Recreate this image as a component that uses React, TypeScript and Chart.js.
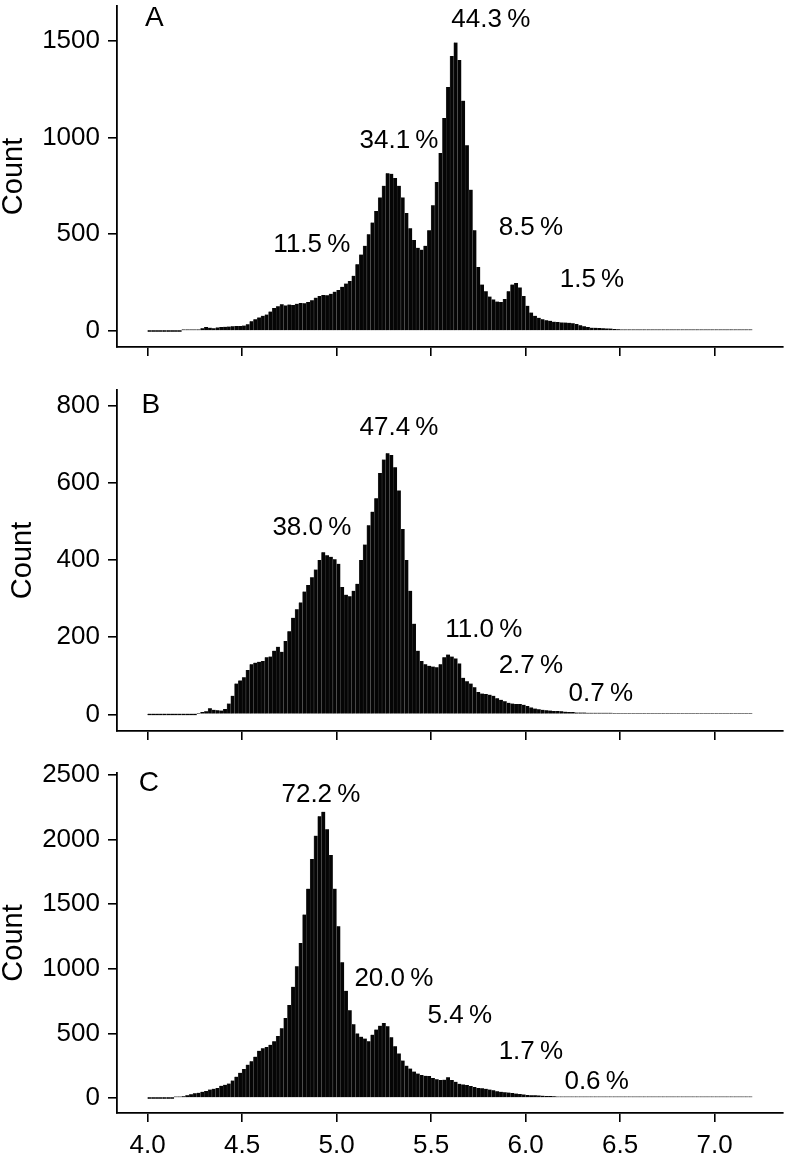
import { useEffect, useRef } from 'react';
import { Chart, registerables } from 'chart.js';

Chart.register(...registerables);

// ---- histogram data (bin width 0.02, first bin centred at 4.01) ----
const BIN_FIRST_CENTER = 4.01;
const BIN_WIDTH = 0.02;

const countsA = [
  0, 0, 0, 0, 0, 0, 0, 0, 0, 1, 1, 2, 3,
  6, 14, 20, 17, 14, 18, 20,
  21, 23, 24, 25, 26, 28, 35, 50, 60, 70,
  78, 85, 100, 118, 128, 138, 132, 136, 134, 140,
  145, 143, 150, 158, 172, 180, 186, 184, 192, 203,
  212, 228, 245, 258, 285, 345, 395, 440, 500, 560,
  620, 690, 750, 815, 812, 790, 750, 690, 610, 530,
  470, 430, 420, 440, 520, 650, 770, 920, 1100, 1260,
  1420, 1490, 1400, 1190, 960, 730, 520, 330, 240, 205,
  178, 163, 152, 150, 165, 205, 240, 248, 225, 180,
  130, 95, 78, 68, 60, 55, 52, 48, 46, 44,
  43, 42, 40, 36, 30, 24, 20, 17, 16, 15,
  14, 13, 12, 10, 9, 8, 7, 6, 6, 5,
  5, 4, 4, 4, 4, 4, 3, 3, 3, 3,
  3, 3, 3, 3, 2, 2, 2, 2, 2, 2,
  2, 2, 2, 2, 2, 2, 1, 1, 1, 1,
];

const countsB = [
  0, 0, 0, 0, 0, 0, 0, 0, 0, 0, 0, 0, 0,
  2, 6, 8, 16, 12, 11, 10,
  14, 28, 48, 80, 88, 96, 115, 130, 134, 136,
  138, 148, 150, 165, 175, 162, 190, 215, 250, 272,
  290, 318, 335, 355, 375, 400, 420, 412, 408, 402,
  390, 330, 310, 306, 320, 338, 400, 440, 490, 525,
  560, 625, 660, 676, 672, 640, 580, 480, 400, 320,
  235, 165, 138, 130, 126, 124, 122, 130, 148, 155,
  150, 145, 132, 95, 86, 80, 70, 58, 54, 53,
  51, 48, 42, 38, 34, 30, 28, 27, 27, 25,
  22, 18, 15, 13, 12, 11, 10, 9, 9, 8,
  7, 6, 6, 5, 5, 5, 4, 4, 4, 4,
  4, 4, 4, 3, 3, 3, 3, 3, 3, 3,
  3, 3, 3, 3, 3, 2, 2, 2, 2, 2,
  2, 2, 2, 2, 2, 2, 2, 2, 2, 2,
  1, 1, 1, 1, 1, 1, 1, 1, 1, 1,
];

const countsC = [
  0, 0, 0, 0, 0, 0, 0,
  3, 8, 14,
  22, 30, 36, 40, 48, 55, 65, 72, 78, 95,
  102, 112, 135, 165, 195, 225, 258, 285, 320, 365,
  385, 395, 412, 440, 480, 540, 620, 720, 860, 1020,
  1200, 1420, 1620, 1850, 2030, 2180, 2215, 2080, 1880, 1620,
  1330, 1050, 830, 680, 570, 500, 475, 460, 440, 490,
  530, 560, 580, 555, 470, 400, 345, 290, 250, 228,
  205, 190, 178, 172, 170, 155, 145, 140, 142, 160,
  140, 125, 110, 105, 100, 92, 85, 78, 75, 72,
  66, 60, 52, 48, 45, 42, 38, 34, 31, 28,
  24, 22, 21, 20, 18, 16, 15, 13, 12, 11,
  10, 10, 9, 9, 8, 8, 8, 7, 7, 6,
  6, 6, 5, 5, 5, 5, 4, 4, 4, 4,
  4, 4, 3, 3, 3, 3, 3, 3, 3, 3,
  3, 2, 2, 2, 2, 2, 2, 2, 2, 2,
  2, 2, 1, 1, 1, 1, 1, 1, 1, 1,
];

const binCenters = countsA.map((_, i) => +(BIN_FIRST_CENTER + i * BIN_WIDTH).toFixed(3));

// ---- tick values ----
const xTickValues = [4.0, 4.5, 5.0, 5.5, 6.0, 6.5, 7.0];
const yTicksA = [0, 500, 1000, 1500];
const yTicksB = [0, 200, 400, 600, 800];
const yTicksC = [0, 500, 1000, 1500, 2000, 2500];

// ---- annotation texts and anchors (data coordinates) ----
const pctTextA = ['11.5\u2009%', '34.1\u2009%', '44.3\u2009%', '8.5\u2009%', '1.5\u2009%'];
const pctXA = [4.869, 5.33, 5.816, 6.028, 6.351];
const pctYA = [444, 981, 1609, 532, 263];

const pctTextB = ['38.0\u2009%', '47.4\u2009%', '11.0\u2009%', '2.7\u2009%', '0.7\u2009%'];
const pctXB = [4.869, 5.33, 5.779, 6.028, 6.398];
const pctYB = [482, 741, 218, 125, 53];

const pctTextC = ['72.2\u2009%', '20.0\u2009%', '5.4\u2009%', '1.7\u2009%', '0.6\u2009%'];
const pctXC = [4.917, 5.303, 5.652, 6.028, 6.376];
const pctYC = [2345, 921, 635, 356, 124];

const panelLetters = ['A', 'B', 'C'];
const letterX = [4.036, 4.017, 4.007];
const letterY = [1614, 801, 2438];

const X_MIN = 3.838;
const X_MAX = 7.362;

const FONT = '"Liberation Sans", Arial, Helvetica, sans-serif';

type PanelCfg = {
  counts: number[];
  pctText: string[];
  pctX: number[];
  pctY: number[];
  letter: string;
  lx: number;
  ly: number;
  yMin: number;
  yMax: number;
  yTicks: number[];
  areaTop: number;
  areaBottom: number;
  xh: number;
  showX: boolean;
  titlePad: number;
};

const PAD_TOP = 30;

const panels: PanelCfg[] = [
  {
    counts: countsA, pctText: pctTextA, pctX: pctXA, pctY: pctYA,
    letter: panelLetters[0], lx: letterX[0], ly: letterY[0],
    yMin: -83, yMax: 1679, yTicks: yTicksA,
    areaTop: 6, areaBottom: 347, xh: 30, showX: false, titlePad: -1,
  },
  {
    counts: countsB, pctText: pctTextB, pctX: pctXB, pctY: pctYB,
    letter: panelLetters[1], lx: letterX[1], ly: letterY[1],
    yMin: -43, yMax: 840, yTicks: yTicksB,
    areaTop: 390, areaBottom: 731, xh: 30, showX: false, titlePad: 8,
  },
  {
    counts: countsC, pctText: pctTextC, pctX: pctXC, pctY: pctYC,
    letter: panelLetters[2], lx: letterX[2], ly: letterY[2],
    yMin: -116, yMax: 2515, yTicks: yTicksC,
    areaTop: 773, areaBottom: 1113, xh: 47, showX: true, titlePad: -1,
  },
];

function HistPanel({ cfg }: { cfg: PanelCfg }) {
  const ref = useRef<HTMLCanvasElement>(null);
  const canvasTop = cfg.areaTop - PAD_TOP;
  const canvasHeight = cfg.areaBottom - canvasTop + cfg.xh;

  useEffect(() => {
    const annot = {
      id: 'annot',
      afterDatasetsDraw(chart: any) {
        const { ctx, scales } = chart;
        const xs = scales.x;
        const ys = scales.y;
        ctx.save();
        ctx.fillStyle = '#000';
        ctx.textAlign = 'center';
        ctx.textBaseline = 'middle';
        ctx.font = `26px ${FONT}`;
        cfg.pctText.forEach((t, i) => {
          ctx.fillText(t, xs.getPixelForValue(cfg.pctX[i]), ys.getPixelForValue(cfg.pctY[i]));
        });
        ctx.font = `28px ${FONT}`;
        ctx.fillText(cfg.letter, xs.getPixelForValue(cfg.lx), ys.getPixelForValue(cfg.ly));
        ctx.restore();
      },
    };

    const chart = new Chart(ref.current!, {
      type: 'bar',
      data: {
        datasets: [
          {
            data: cfg.counts.map((c, i) => ({ x: binCenters[i], y: c })),
            backgroundColor: '#050505',
            borderColor: '#3c3c3c',
            borderWidth: { left: 0.6, right: 0, top: 0, bottom: 0 },
            borderSkipped: 'start',
            barPercentage: 1,
            categoryPercentage: 1,
            minBarLength: 1.5,
          } as any,
        ],
      },
      options: {
        responsive: false,
        animation: false,
        devicePixelRatio: 1,
        layout: { padding: { top: PAD_TOP, right: 787 - 783, left: 0, bottom: 0 } },
        plugins: { legend: { display: false }, tooltip: { enabled: false }, title: { display: false } },
        scales: {
          x: {
            type: 'linear',
            min: X_MIN,
            max: X_MAX,
            offset: false,
            afterBuildTicks: (s: any) => {
              s.ticks = xTickValues.map((v) => ({ value: v }));
            },
            ticks: {
              display: cfg.showX,
              autoSkip: false,
              maxRotation: 0,
              color: '#000',
              padding: 8,
              font: { family: FONT, size: 26 },
              callback: (v: any) => Number(v).toFixed(1),
            },
            grid: {
              offset: false,
              drawOnChartArea: false,
              drawTicks: true,
              tickLength: 9,
              color: '#000',
              lineWidth: 1.6,
            },
            border: { display: true, color: '#000', width: 1.8 },
            afterFit: (s: any) => {
              s.height = cfg.xh;
            },
          } as any,
          y: {
            type: 'linear',
            min: cfg.yMin,
            max: cfg.yMax,
            afterBuildTicks: (s: any) => {
              s.ticks = cfg.yTicks.map((v) => ({ value: v }));
            },
            ticks: {
              autoSkip: false,
              color: '#000',
              padding: 8,
              font: { family: FONT, size: 26 },
              callback: (v: any) => String(v),
            },
            grid: {
              drawOnChartArea: false,
              drawTicks: true,
              tickLength: 9,
              color: '#000',
              lineWidth: 1.6,
            },
            border: { display: true, color: '#000', width: 1.8 },
            title: {
              display: true,
              text: 'Count',
              color: '#000',
              font: { family: FONT, size: 29, lineHeight: 1 },
              padding: { top: cfg.titlePad, bottom: 0 },
            },
            afterFit: (s: any) => {
              s.width = 117;
            },
          } as any,
        },
      },
      plugins: [annot],
    });
    return () => chart.destroy();
  }, [cfg]);

  return (
    <canvas
      ref={ref}
      width={787}
      height={canvasHeight}
      style={{ position: 'absolute', left: 0, top: canvasTop, width: 787, height: canvasHeight }}
    />
  );
}

export default function App() {
  return (
    <div style={{ position: 'absolute', left: 0, top: 0, width: 787, height: 1160, background: '#fff', overflow: 'hidden' }}>
      {panels.map((p, i) => (
        <HistPanel key={i} cfg={p} />
      ))}
    </div>
  );
}
